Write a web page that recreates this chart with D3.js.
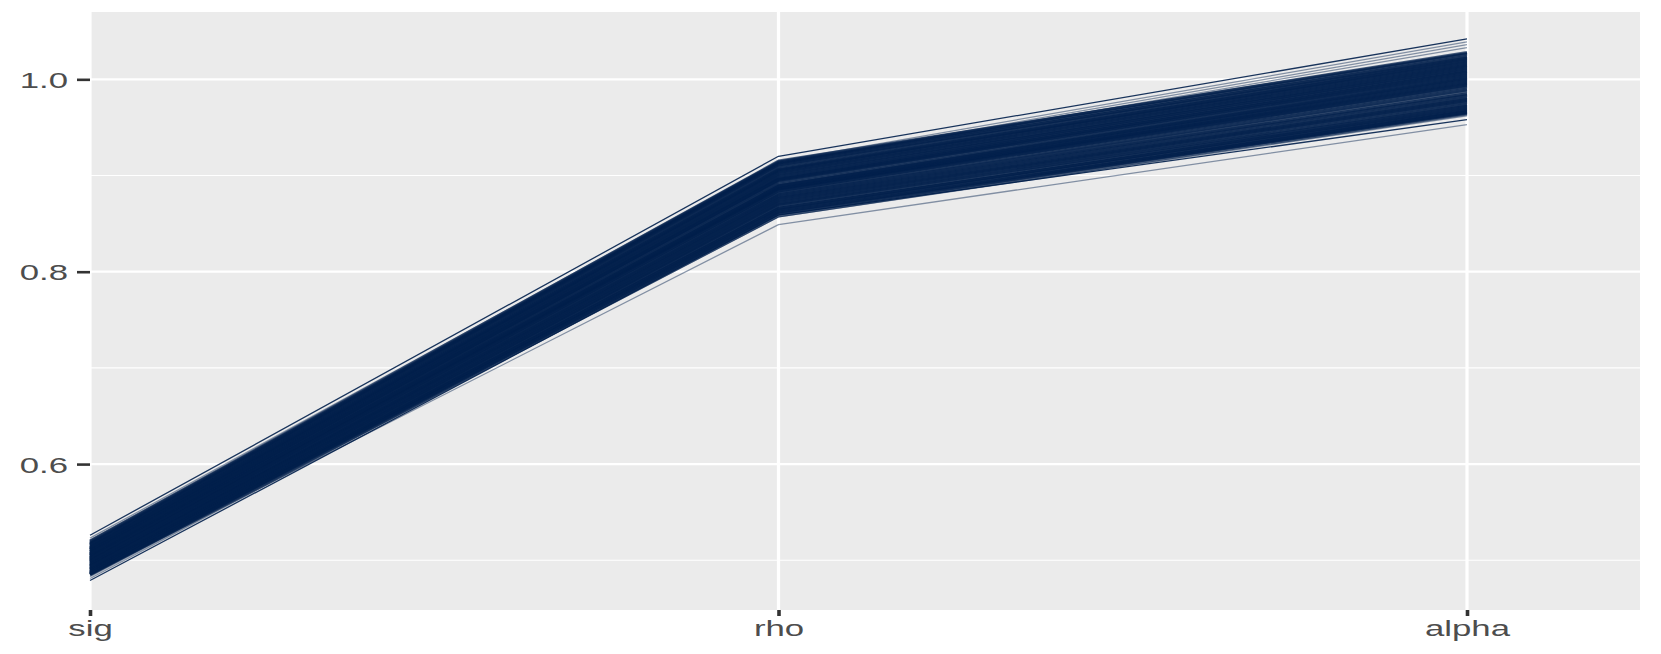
<!DOCTYPE html>
<html>
<head>
  <meta charset="utf-8">
  <script src="https://d3js.org/d3.v7.min.js"></script>
  <style>
    body { margin: 0; background: #fff; }
    .axis .domain { display: none; }
    .axis text { font-family: "Liberation Sans", Arial, sans-serif; font-size: 22px; fill: #4D4D4D; }
    .axis line { stroke: #333333; }
  </style>
</head>
<body>
<div id="chart"></div>
<script>
  // parameters (columns of the parallel plot)
  var vars = ["sig", "rho", "alpha"];

  // posterior draws
  var sig = [
    0.501,0.493,0.511,0.487,0.516,0.497,0.505,0.490,0.509,0.500,
    0.495,0.513,0.486,0.506,0.498,0.518,0.491,0.503,0.510,0.488,
    0.507,0.494,0.515,0.489,0.502,0.512,0.485,0.504,0.496,0.519,
    0.487,0.508,0.501,0.492,0.517,0.494,0.506,0.486,0.514,0.499,
    0.503,0.490,0.512,0.495,0.509,0.485,0.500,0.516,0.491,0.505,
    0.497,0.511,0.488,0.513,0.502,0.493,0.520,0.486,0.507,0.499,
    0.526,0.479,0.521,0.483,0.518,0.485,0.523,0.481
  ];
  var rho = [
    0.887,0.874,0.903,0.866,0.911,0.882,0.894,0.870,0.900,0.886,
    0.878,0.906,0.862,0.896,0.884,0.913,0.871,0.890,0.901,0.866,
    0.897,0.876,0.909,0.868,0.888,0.904,0.860,0.891,0.880,0.914,
    0.864,0.898,0.886,0.873,0.912,0.877,0.895,0.863,0.907,0.885,
    0.889,0.869,0.905,0.879,0.899,0.858,0.887,0.910,0.872,0.893,
    0.881,0.902,0.865,0.906,0.889,0.875,0.915,0.861,0.896,0.884,
    0.920,0.859,0.913,0.857,0.912,0.849,0.915,0.861
  ];
  var alpha = [
    0.996,0.979,1.015,0.970,1.024,0.990,1.006,0.974,1.011,0.997,
    0.984,1.018,0.967,1.008,0.992,1.026,0.976,1.001,1.013,0.969,
    1.009,0.981,1.021,0.972,0.999,1.016,0.965,1.003,0.987,1.028,
    0.968,1.010,0.995,0.978,1.023,0.983,1.005,0.966,1.019,0.993,
    1.000,0.973,1.017,0.985,1.012,0.964,0.998,1.022,0.977,1.004,
    0.989,1.014,0.971,1.020,1.002,0.980,1.027,0.966,1.007,0.994,
    1.042,0.958,1.036,0.962,1.033,0.953,1.039,0.964
  ];

  var majorTicks = [0.6, 0.8, 1.0];
  var minorTicks = [0.5, 0.7, 0.9];

  var W = 1661, H = 654;
  var panel = { left: 90, right: 1640, top: 12, bottom: 610 };
  var stretch = 1.58; // labels in the original are drawn wide

  var svg = d3.select("#chart").append("svg")
    .attr("width", W)
    .attr("height", H);

  var x = d3.scalePoint()
    .domain(vars)
    .range([panel.left, 1467]);

  var y = d3.scaleLinear()
    .domain([0.4483, 1.0700])
    .range([panel.bottom, panel.top]);

  // panel background
  svg.append("rect")
    .attr("x", panel.left)
    .attr("y", panel.top)
    .attr("width", panel.right - panel.left)
    .attr("height", panel.bottom - panel.top)
    .attr("fill", "#EBEBEB");

  var grid = svg.append("g");
  grid.selectAll(".minor")
    .data(minorTicks)
    .enter().append("line")
    .attr("x1", panel.left).attr("x2", panel.right)
    .attr("y1", function(d) { return y(d); })
    .attr("y2", function(d) { return y(d); })
    .attr("stroke", "#fff")
    .attr("stroke-width", 1.1);
  grid.selectAll(".major")
    .data(majorTicks)
    .enter().append("line")
    .attr("x1", panel.left).attr("x2", panel.right)
    .attr("y1", function(d) { return y(d); })
    .attr("y2", function(d) { return y(d); })
    .attr("stroke", "#fff")
    .attr("stroke-width", 2.2);
  grid.selectAll(".vmajor")
    .data(vars)
    .enter().append("line")
    .attr("x1", function(d) { return x(d); })
    .attr("x2", function(d) { return x(d); })
    .attr("y1", panel.top).attr("y2", panel.bottom)
    .attr("stroke", "#fff")
    .attr("stroke-width", 3.2);

  // one row per draw
  var draws = sig.map(function(s, i) {
    return { sig: s, rho: rho[i], alpha: alpha[i] };
  });

  var line = d3.line()
    .x(function(d) { return x(d.key); })
    .y(function(d) { return y(d.value); });

  var paths = svg.append("g")
    .selectAll("path")
    .data(draws)
    .enter().append("path")
    .attr("d", function(d) {
      return line(vars.map(function(k) { return { key: k, value: d[k] }; }));
    })
    .attr("fill", "none")
    .attr("stroke", "#011F4B")
    .attr("stroke-linejoin", "round")
    .attr("stroke-opacity", 0.7)
    .attr("stroke-width", 3);

  // the outer, rarer draws are thin and faint
  paths.filter(function(d, i) { return i >= 60; })
    .attr("stroke-width", 1.3)
    .attr("stroke-opacity", function(d, i) { return i < 2 ? 0.9 : 0.45; });

  // y axis
  var yAxis = svg.append("g")
    .attr("class", "axis")
    .attr("transform", "translate(" + panel.left + ",0)")
    .call(d3.axisLeft(y).tickValues(majorTicks).tickSize(13).tickFormat(d3.format(".1f")));
  yAxis.selectAll("line").attr("stroke-width", 2.6);
  yAxis.selectAll("text")
    .attr("x", -22 / stretch)
    .attr("dy", "0.36em")
    .attr("transform", "scale(" + stretch + ",1)");

  // x axis
  var xAxis = svg.append("g")
    .attr("class", "axis")
    .attr("transform", "translate(0," + panel.bottom + ")")
    .call(d3.axisBottom(x).tickSize(6));
  xAxis.selectAll("line").attr("stroke-width", 3.6);
  xAxis.selectAll("text")
    .attr("x", 0)
    .attr("y", 26)
    .attr("dy", 0)
    .attr("transform", "scale(" + stretch + ",1)");
</script>
</body>
</html>
